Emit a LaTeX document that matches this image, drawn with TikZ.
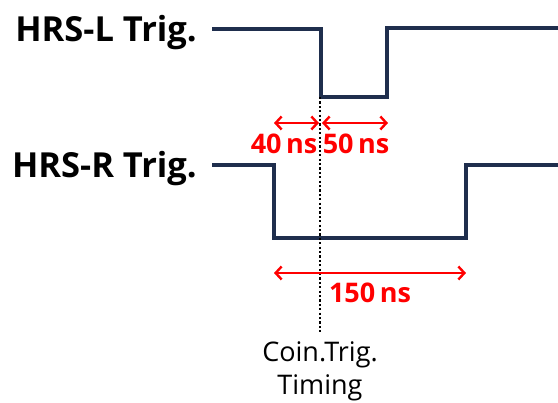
\documentclass[tikz,border=0pt]{standalone}
\usepackage{fontspec}
\setmainfont{Open Sans}
\usetikzlibrary{arrows.meta}

\tikzset{
  sig/.style={line width=3.3pt, draw={rgb,255:red,31;green,46;blue,77}, line join=miter},
  span/.style={line width=2.4pt, red, {Straight Barb[length=6pt,width=13pt]}-{Straight Barb[length=6pt,width=13pt]}},
  signame/.style={font=\fontsize{34.5}{34.5}\selectfont\bfseries, inner sep=0pt, anchor=base east},
  spanlabel/.style={font=\fontsize{27}{27}\selectfont\bfseries, text=red, inner sep=0pt, anchor=base},
  caption/.style={font=\fontsize{27}{27}\selectfont, inner sep=0pt, anchor=base}
}

\begin{document}
\begin{tikzpicture}[x=1pt, y=-1pt]
  \useasboundingbox (0,0) rectangle (558,403);

  % Signal names
  \node[signame] (nameL) at (197, 42) {HRS-L Trig.};
  \node[signame] (nameR) at (197, 178) {HRS-R Trig.};

  % HRS-L waveform
  \draw[sig] (212, 29) -- (321, 29) -- (321, 97) coordinate (lowL) -- (387, 97) -- (387, 28) -- (560, 28);

  % HRS-R waveform
  \draw[sig] (212, 165) -- (274, 165) -- (274, 238) -- (466, 238) -- (466, 165) -- (560, 165);

  % Coincidence timing marker
  \coordinate (markTop) at (320, 97);
  \coordinate (markBot) at (320, 333);
  \draw[line width=2.6pt, dash pattern=on 2.2pt off 2.2pt] (markTop) -- (markBot);

  % Delay spans
  \coordinate (a1) at (274, 123);
  \coordinate (a2) at (319, 123);
  \coordinate (a3) at (322, 123);
  \coordinate (a4) at (388, 123);
  \draw[span] (a1) -- (a2);
  \draw[span] (a3) -- (a4);
  \node[spanlabel] (d40) at (284, 154) {40\,ns};
  \node[spanlabel] (d50) at (356, 154) {50\,ns};

  \coordinate (b1) at (274, 273);
  \coordinate (b2) at (466, 273);
  \draw[span] (b1) -- (b2);
  \node[spanlabel] (d150) at (370, 303) {150\,ns};

  % Marker caption
  \node[caption] (coin) at (320, 362) {Coin.Trig.};
  \node[caption] (timing) at (320, 395) {Timing};
\end{tikzpicture}
\end{document}
